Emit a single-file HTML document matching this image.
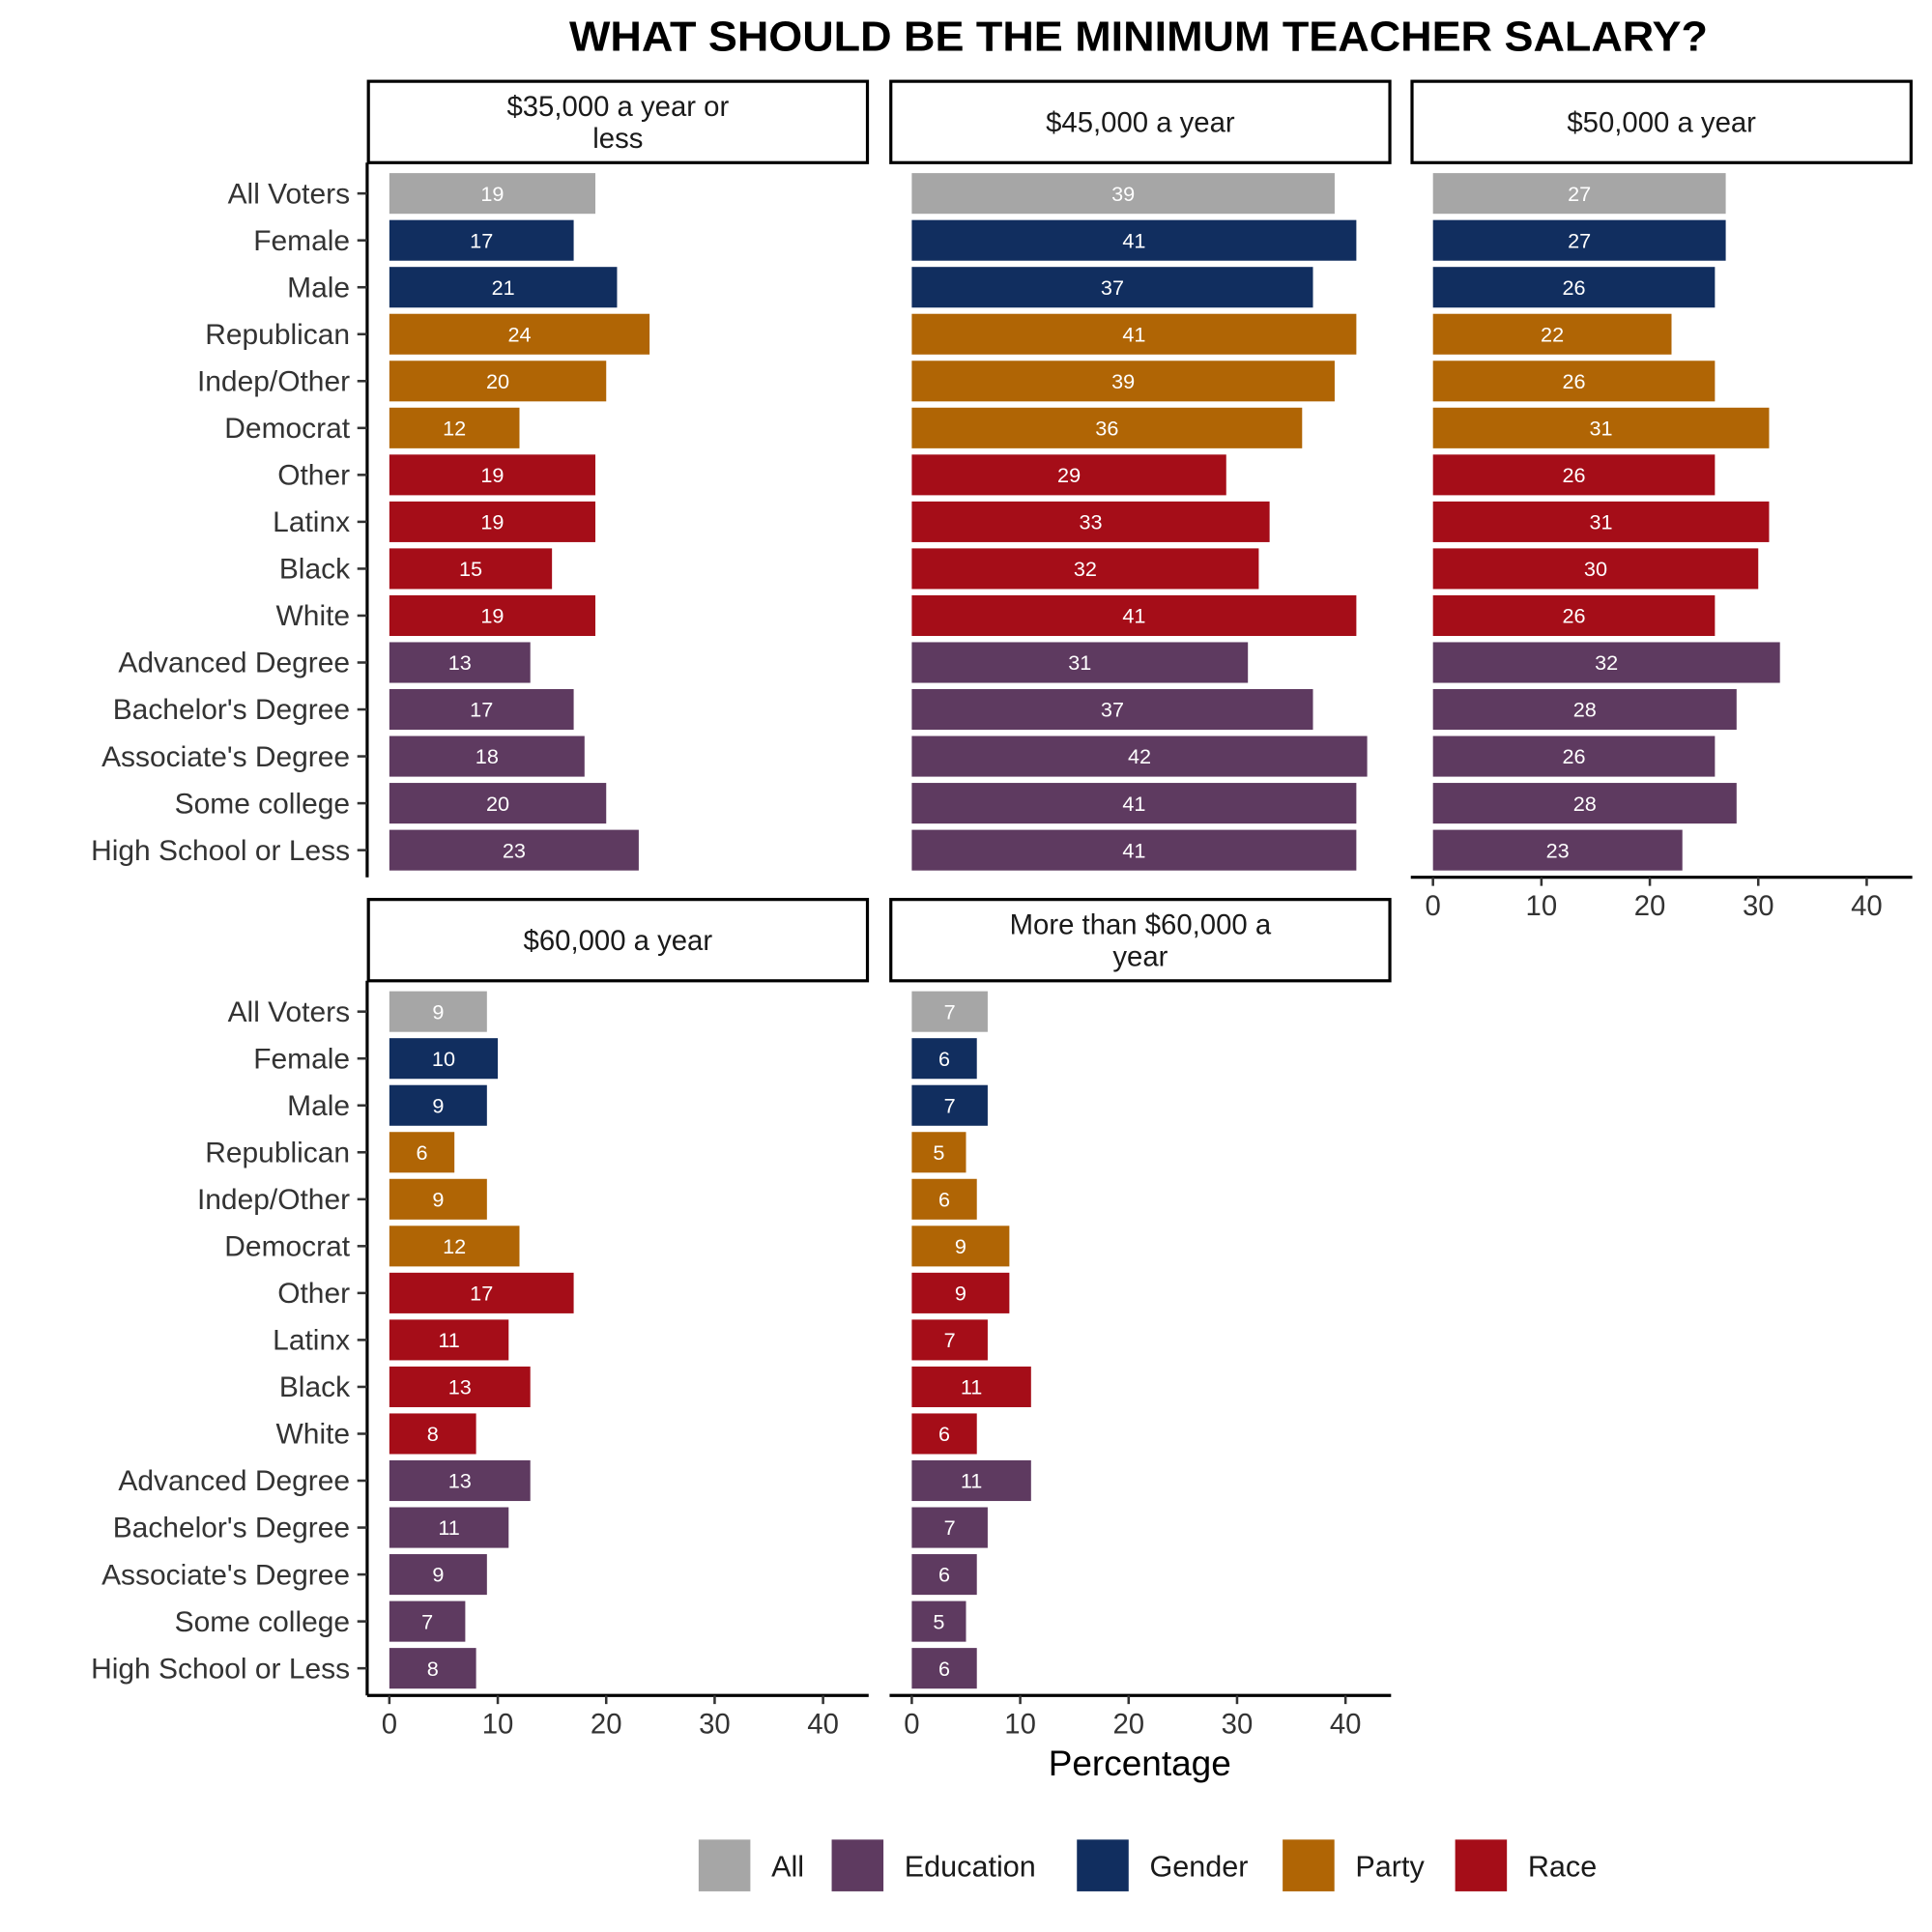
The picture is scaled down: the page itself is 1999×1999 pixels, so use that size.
<!DOCTYPE html>
<html><head><meta charset="utf-8"><style>
html,body{margin:0;padding:0;background:#fff;}
svg{display:block;}
text{font-family:"Liberation Sans",sans-serif;}
</style></head>
<body>
<svg id="chart" width="1999" height="1999" viewBox="0 0 1568 1568" xmlns="http://www.w3.org/2000/svg">
<rect width="1568" height="1568" fill="#fff"/>
<text x="924" y="41" text-anchor="middle" font-size="34.5" font-weight="bold" fill="#000" textLength="924" lengthAdjust="spacingAndGlyphs">WHAT SHOULD BE THE MINIMUM TEACHER SALARY?</text>
<text x="925" y="1441" text-anchor="middle" font-size="29" fill="#000">Percentage</text>
<g id="panels"></g>
<g id="legend"></g>
</svg>
<script>
const categories = ["All Voters","Female","Male","Republican","Indep/Other","Democrat","Other","Latinx","Black","White","Advanced Degree","Bachelor's Degree","Associate's Degree","Some college","High School or Less"];
const groups = ["All","Gender","Gender","Party","Party","Party","Race","Race","Race","Race","Education","Education","Education","Education","Education"];
const panelTitles = [["$35,000 a year or","less"],["$45,000 a year"],["$50,000 a year"],["$60,000 a year"],["More than $60,000 a","year"]];
const values35 = [19,17,21,24,20,12,19,19,15,19,13,17,18,20,23];
const values45 = [39,41,37,41,39,36,29,33,32,41,31,37,42,41,41];
const values50 = [27,27,26,22,26,31,26,31,30,26,32,28,26,28,23];
const values60 = [9,10,9,6,9,12,17,11,13,8,13,11,9,7,8];
const valuesMore = [7,6,7,5,6,9,9,7,11,6,11,7,6,5,6];
const xTicks = [0,10,20,30,40];
const legendKeys = ["All","Education","Gender","Party","Race"];
const colors = {All:"#a6a6a6",Education:"#5e3a60",Gender:"#112e5f",Party:"#b06505",Race:"#a50d18"};

const NS="http://www.w3.org/2000/svg";
function mk(tag,attrs,parent){const e=document.createElementNS(NS,tag);for(const k in attrs)e.setAttribute(k,attrs[k]);parent.appendChild(e);return e;}
const panelsG=document.getElementById('panels');
const allValues=[values35,values45,values50,values60,valuesMore];
const layout=[{x:298,y:65,left:true,axis:false},{x:722,y:65,left:false,axis:false},{x:1145,y:65,left:false,axis:true},{x:298,y:729,left:true,axis:true},{x:722,y:729,left:false,axis:true}];
const PW=407, SH=67, PH=580, scale=8.8, rowStep=38.07, barH=33;

layout.forEach((L,pi)=>{
  const g=mk('g',{},panelsG);
  
  
  const x0=L.x+18;
  const xs=v=>x0+v*scale;
  const top=L.y+SH;
  const ys=i=>top+25+i*rowStep;
  const strip=mk('rect',{x:L.x+1,y:L.y+1,width:PW-2,height:SH-1,fill:'#fff',stroke:'#000','stroke-width':2.5},g);
  
  
  const t=panelTitles[pi];
  t.forEach((line,li)=>{
    const tx=mk('text',{x:L.x+PW/2,y:(t.length===1?L.y+42:L.y+29+li*26),'text-anchor':'middle','font-size':23,fill:'#1a1a1a'},g);
    tx.textContent=line;
    
    
  });
  const vals=allValues[pi];
  vals.forEach((v,i)=>{
    const r=mk('rect',{x:xs(0),y:ys(i)-barH/2,width:xs(v)-xs(0),height:barH,fill:colors[groups[i]]},g);
    
    
    const lb=mk('text',{x:(xs(0)+xs(v))/2,y:ys(i)+6,'text-anchor':'middle','font-size':17,fill:'#fff'},g);
    lb.textContent=v;
    
    
  });
  if(L.left){
    mk('line',{x1:L.x,y1:top,x2:L.x,y2:top+PH,stroke:'#000','stroke-width':2.5},g);
    categories.forEach((c,i)=>{
      mk('line',{x1:L.x-8,y1:ys(i),x2:L.x,y2:ys(i),stroke:'#333','stroke-width':2},g);
      const tl=mk('text',{x:L.x-14,y:ys(i)+8,'text-anchor':'end','font-size':23.5,fill:'#333'},g);
      tl.textContent=c;
      
      
    });
  }
  if(L.axis){
    const ay=top+PH;
    mk('line',{x1:L.x,y1:ay,x2:L.x+PW,y2:ay,stroke:'#000','stroke-width':2.5},g);
    xTicks.forEach(tv=>{
      mk('line',{x1:xs(tv),y1:ay,x2:xs(tv),y2:ay+7,stroke:'#333','stroke-width':2},g);
      const xl=mk('text',{x:xs(tv),y:ay+31,'text-anchor':'middle','font-size':23,fill:'#333'},g);
      xl.textContent=tv;
      
      
    });
  }
});

const lg=document.getElementById('legend');
const lx=[567,675,874,1041,1181];
legendKeys.forEach((k,i)=>{
  const r=mk('rect',{x:lx[i],y:1493,width:42,height:42,fill:colors[k]},lg);
  
  
  const t=mk('text',{x:lx[i]+59,y:1523,'font-size':24,fill:'#1a1a1a'},lg);
  t.textContent=k;
  
  
});
</script>
</body></html>
